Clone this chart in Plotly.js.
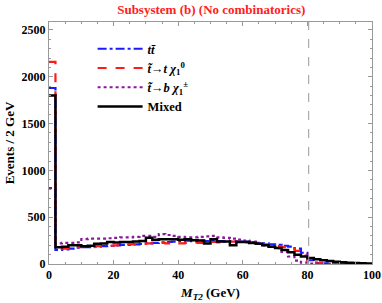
<!DOCTYPE html>
<html><head><meta charset="utf-8">
<script src="https://cdn.plot.ly/plotly-3.0.1.min.js"></script>
<style>html,body{margin:0;padding:0;background:#fff}#plot{width:382px;height:303px}</style>
</head><body><div id="plot"></div>
<script>
// Bin edges: 0..100 GeV in 2 GeV bins (50 bins); bin i covers [2i, 2i+2]
const binEdges = Array.from({length: 51}, (_, i) => i * 2);
const ttbar = [1880,150,155,165,175,180,180,185,190,195,
  200,205,205,210,215,220,225,230,235,240,
  245,250,245,250,245,250,245,240,245,240,
  240,235,225,220,210,205,195,185,165,120,
  40,15,8,5,3,2,1,1,0,0];
const stopT = [2160,170,165,175,180,185,180,190,195,195,
  200,205,210,210,215,220,225,225,220,215,
  220,225,230,225,230,235,230,235,240,235,
  230,225,220,210,200,190,180,165,140,90,
  25,10,5,3,2,1,1,0,0,0];
const stopB = [810,220,225,225,230,265,270,270,270,275,
  280,285,285,290,300,300,290,320,310,300,
  290,285,285,290,295,300,285,280,270,260,
  250,240,220,200,185,170,130,80,35,15,
  5,3,2,1,1,0,0,0,0,0];
const mixed = [1800,180,185,200,200,190,195,215,220,235,
  230,235,235,240,245,280,260,265,265,265,
  260,265,255,250,220,265,240,240,200,235,
  235,225,215,200,185,170,150,125,100,80,
  64,50,40,32,24,18,14,10,7,5];
const wMassLine = 80.4;
const yTicks = [0, 500, 1000, 1500, 2000, 2500];
const xTicks = [0, 20, 40, 60, 80, 100];

function stepY(v){ return v.concat([v[v.length-1]]); }
const serif = 'Liberation Serif, serif';
function tr(vals, name, color, dash, width){
  return {x: binEdges, y: stepY(vals), type: 'scatter', mode: 'lines', name: name,
    line: {shape: 'hv', color: color, dash: dash, width: width}};
}
const data = [
  tr(ttbar, '<b><i>tt̄</i></b>', '#1a1aff', 'dashdot', 2.2),
  tr(stopT, '<b><i>t̃</i>→<i>t χ</i><sub>1</sub><sup>0</sup></b>', '#ff1a1a', 'dash', 2.2),
  tr(stopB, '<b><i>t̃</i>→<i>b χ</i><sub>1</sub><sup>±</sup></b>', '#8b1a9b', 'dot', 2.2),
  tr(mixed, '<b>Mixed</b>', '#000000', 'solid', 2.5)
];
const layout = {
  width: 382, height: 303,
  margin: {l: 49, r: 10, t: 22, b: 39},
  paper_bgcolor: '#fff', plot_bgcolor: '#fff',
  font: {family: serif, size: 12, color: '#000'},
  title: {text: '<b>Subsystem (b) (No combinatorics)</b>', font: {family: serif, size: 13, color: '#ff2020'},
    x: 0.553, xanchor: 'center', y: 0.97, yanchor: 'middle'},
  showlegend: true,
  legend: {x: 0.135, y: 0.95, xanchor: 'left', yanchor: 'top', bgcolor: 'rgba(0,0,0,0)',
    font: {family: serif, size: 12.5, color: '#000'}, tracegroupgap: 0, itemwidth: 45},
  xaxis: {range: [0, 100], tickvals: xTicks, ticktext: xTicks.map(String),
    ticks: 'inside', ticklen: 4, tickcolor: '#999', mirror: 'ticks', showline: true, linecolor: '#999', linewidth: 1,
    showgrid: false, zeroline: false,
    minor: {dtick: 5, ticks: 'inside', ticklen: 2, tickcolor: '#999'},
    tickfont: {family: serif, size: 12, weight: 'bold'},
    title: {text: '<b><i>M</i><sub><i>T2</i></sub> (GeV)</b>', font: {family: serif, size: 13}, standoff: 6}},
  yaxis: {range: [0, 2585], tickvals: yTicks, ticktext: yTicks.map(String),
    ticks: 'inside', ticklen: 4, tickcolor: '#999', mirror: 'ticks', showline: true, linecolor: '#999', linewidth: 1,
    showgrid: false, zeroline: false,
    minor: {dtick: 100, ticks: 'inside', ticklen: 2, tickcolor: '#999'},
    tickfont: {family: serif, size: 12, weight: 'bold'},
    title: {text: '<b>Events / 2 GeV</b>', font: {family: serif, size: 13}, standoff: 4}},
  shapes: [{type: 'line', xref: 'x', yref: 'paper', x0: wMassLine, x1: wMassLine, y0: 0, y1: 1,
    line: {color: '#999', width: 1, dash: 'dash'}}]
};
Plotly.newPlot('plot', data, layout, {displayModeBar: false, staticPlot: true});
</script></body></html>
